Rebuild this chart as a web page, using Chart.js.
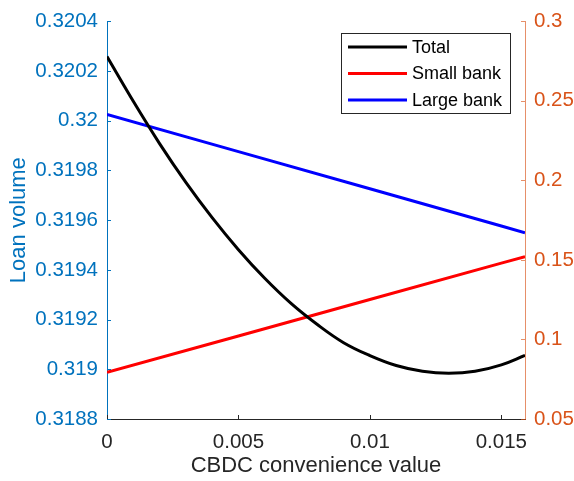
<!DOCTYPE html>
<html>
<head>
<meta charset="utf-8">
<script src="https://cdn.jsdelivr.net/npm/chart.js@4/dist/chart.umd.min.js"></script>
<style>
  html, body { margin: 0; padding: 0; background: #fff; }
  #wrap { width: 574px; height: 481px; }
</style>
</head>
<body>
<div id="wrap"><canvas id="c" width="574" height="481"></canvas></div>
<script>
// CBDC convenience value (x) and total loan volume (left axis)
const convenience = [0, 0.001, 0.002, 0.003, 0.004, 0.005, 0.006, 0.007, 0.008,
                     0.009, 0.010, 0.011, 0.012, 0.013, 0.014, 0.015, 0.0159];
const totalLoans = [0.320258, 0.320078, 0.319908, 0.319752, 0.319610, 0.319481,
                    0.319366, 0.319265, 0.319180, 0.319107, 0.319055, 0.319015,
                    0.318992, 0.318984, 0.318992, 0.319018, 0.319056];

// Bank-level loan volumes (right axis)
const bankX = [0, 0.005, 0.010, 0.015, 0.0159];
const smallBank = [0.0793, 0.1022, 0.1251, 0.1480, 0.1521];
const largeBank = [0.2415, 0.2181, 0.1947, 0.1713, 0.1671];

// Tick positions
const xTicks = [0, 0.005, 0.01, 0.015];
const leftTicks = [0.3188, 0.319, 0.3192, 0.3194, 0.3196, 0.3198, 0.32, 0.3202, 0.3204];
const rightTicks = [0.05, 0.1, 0.15, 0.2, 0.25, 0.3];

const seriesNames = ['Total', 'Small bank', 'Large bank'];

const FONT = "'Liberation Sans', Arial, Helvetica, sans-serif";
const BLUE_AX = '#0072BD';
const ORANGE_AX = '#D95319';
const DARK = '#262626';

const pts = (xs, ys) => xs.map((x, i) => ({ x: x, y: ys[i] }));
const fmt = v => String(+Number(v).toFixed(4));

// Inward-pointing tick marks along each axis
const innerTicks = {
  id: 'innerTicks',
  afterDraw(chart) {
    const ctx = chart.ctx, a = chart.chartArea, L = 4;
    ctx.save();
    ctx.lineWidth = 1;
    const sx = chart.scales.x;
    ctx.strokeStyle = DARK;
    xTicks.forEach(v => {
      const p = Math.round(sx.getPixelForValue(v)) + 0.5;
      ctx.beginPath(); ctx.moveTo(p, a.bottom); ctx.lineTo(p, a.bottom - L); ctx.stroke();
    });
    const yl = chart.scales.yL;
    ctx.strokeStyle = BLUE_AX;
    leftTicks.forEach(v => {
      const p = Math.round(yl.getPixelForValue(v)) + 0.5;
      ctx.beginPath(); ctx.moveTo(a.left, p); ctx.lineTo(a.left + L, p); ctx.stroke();
    });
    const yr = chart.scales.yR;
    ctx.strokeStyle = 'rgba(217,83,25,0.65)';
    rightTicks.forEach(v => {
      const p = Math.round(yr.getPixelForValue(v)) + 0.5;
      ctx.beginPath(); ctx.moveTo(a.right, p); ctx.lineTo(a.right - L, p); ctx.stroke();
    });
    ctx.restore();
  }
};

// Boxed legend in the upper-right of the plot area
const boxLegend = {
  id: 'boxLegend',
  afterDraw(chart) {
    const ctx = chart.ctx;
    const bx = 341.5, by = 33.5, bw = 169, bh = 80;
    ctx.save();
    ctx.fillStyle = '#fff';
    ctx.fillRect(bx, by, bw, bh);
    ctx.strokeStyle = DARK;
    ctx.lineWidth = 1;
    ctx.strokeRect(bx, by, bw, bh);
    const rows = [47, 73.5, 100];
    chart.data.datasets.forEach((ds, i) => {
      const y = rows[i];
      ctx.strokeStyle = ds.borderColor;
      ctx.lineWidth = 3;
      ctx.beginPath(); ctx.moveTo(348, y); ctx.lineTo(407, y); ctx.stroke();
      ctx.fillStyle = '#000';
      ctx.font = '18px ' + FONT;
      ctx.textBaseline = 'middle';
      ctx.textAlign = 'left';
      ctx.fillText(ds.label, 412, y + 1);
    });
    ctx.restore();
  }
};

new Chart(document.getElementById('c'), {
  type: 'line',
  data: {
    datasets: [
      { label: seriesNames[0], data: pts(convenience, totalLoans), yAxisID: 'yL',
        borderColor: '#000000', borderWidth: 3, pointRadius: 0,
        tension: 0.4, fill: false },
      { label: seriesNames[1], data: pts(bankX, smallBank), yAxisID: 'yR',
        borderColor: '#FF0000', borderWidth: 3, pointRadius: 0, tension: 0, fill: false },
      { label: seriesNames[2], data: pts(bankX, largeBank), yAxisID: 'yR',
        borderColor: '#0000FF', borderWidth: 3, pointRadius: 0, tension: 0, fill: false }
    ]
  },
  options: {
    responsive: false,
    devicePixelRatio: 1,
    animation: false,
    layout: { padding: { top: 17, right: 0, left: 0, bottom: 0 } },
    plugins: { legend: { display: false }, tooltip: { enabled: false } },
    scales: {
      x: {
        type: 'linear', min: 0, max: 0.0159,
        afterBuildTicks: s => { s.ticks = xTicks.map(v => ({ value: v })); },
        afterFit: s => { s.height = 62; },
        grid: { display: false, drawTicks: false },
        border: { display: true, color: DARK, width: 1 },
        ticks: { color: DARK, font: { family: FONT, size: 20.5 }, padding: 11,
                 callback: v => fmt(v), maxRotation: 0, autoSkip: false },
        title: { display: true, text: 'CBDC convenience value', color: DARK,
                 font: { family: FONT, size: 22 }, padding: { top: 0, bottom: 2 } }
      },
      yL: {
        type: 'linear', position: 'left', min: 0.3188, max: 0.3204,
        afterBuildTicks: s => { s.ticks = leftTicks.map(v => ({ value: v })); },
        afterFit: s => { s.width = 107; },
        grid: { display: false, drawTicks: false },
        border: { display: true, color: BLUE_AX, width: 1 },
        ticks: { color: BLUE_AX, font: { family: FONT, size: 20.5 }, padding: 9,
                 callback: v => fmt(v), autoSkip: false },
        title: { display: true, text: 'Loan volume', color: BLUE_AX,
                 font: { family: FONT, size: 22 }, padding: { top: 6, bottom: 0 } }
      },
      yR: {
        type: 'linear', position: 'right', min: 0.05, max: 0.3,
        afterBuildTicks: s => { s.ticks = rightTicks.map(v => ({ value: v })); },
        afterFit: s => { s.width = 49; },
        grid: { display: false, drawTicks: false },
        border: { display: true, color: 'rgba(217,83,25,0.65)', width: 1 },
        ticks: { color: ORANGE_AX, font: { family: FONT, size: 20.5 }, padding: 9,
                 callback: v => fmt(v), autoSkip: false }
      }
    }
  },
  plugins: [innerTicks, boxLegend]
});
</script>
</body>
</html>
